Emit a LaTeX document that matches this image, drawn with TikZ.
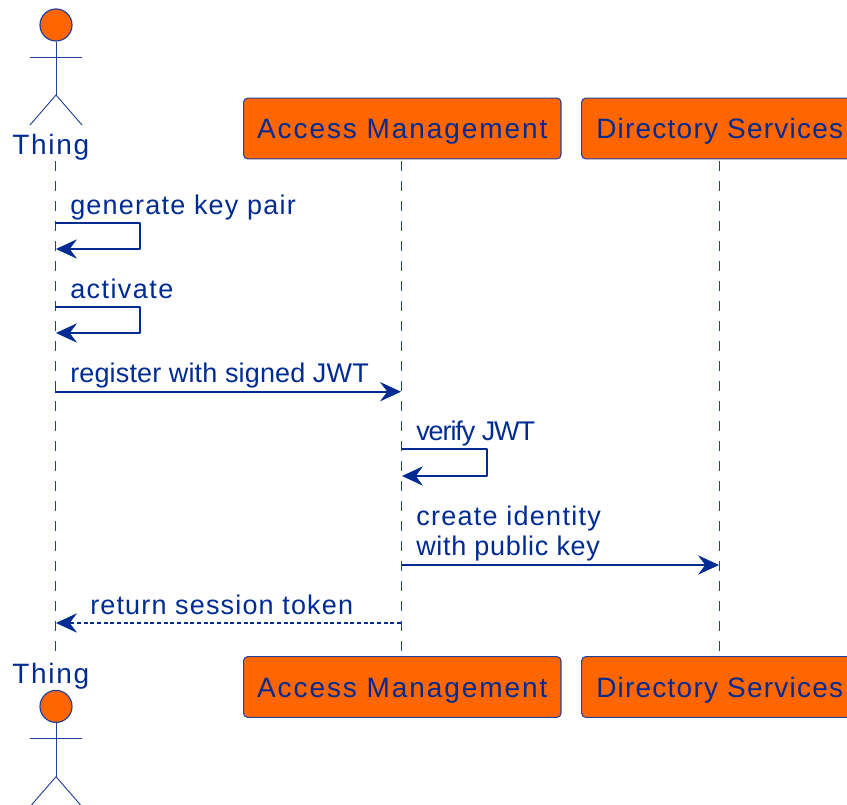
\documentclass[tikz,border=0pt]{standalone}
\usepackage{fontspec}
\setmainfont{Liberation Sans}
\usetikzlibrary{arrows.meta}
\definecolor{ink}{HTML}{002B92}
\definecolor{edge}{HTML}{24419A}
\definecolor{boxfill}{HTML}{FF6600}
\newcommand{\lsp}[1]{\addfontfeature{LetterSpace=#1}}
\tikzset{
  x=0.75pt,y=-0.75pt,
  part/.style={draw=edge,line width=0.8pt,fill=boxfill,rounded corners=3pt,minimum height=45.5pt,inner sep=0pt,text=ink,font=\fontsize{21pt}{24pt}\selectfont,text height=15.75pt,text depth=0pt},
  actlabel/.style={inner sep=0pt,anchor=base west,text=ink,font=\fontsize{21pt}{24pt}\selectfont},
  msglabel/.style={inner sep=0pt,anchor=base west,text=ink,font=\fontsize{20.25pt}{22pt}\selectfont},
  lifeline/.style={draw=edge,line width=0.75pt,dash pattern=on 7.2pt off 7.8pt},
  msg/.style={draw=ink,line width=1.5pt,line join=round,-{Stealth[length=15.75pt,width=14.5pt,inset=5.5pt,line width=0.6pt]}},
  reply/.style={msg,dash pattern=on 3pt off 2pt},
  limb/.style={draw=edge,line width=0.7pt},
  head/.style={circle,draw=edge,line width=0.9pt,fill=boxfill,minimum size=24pt,inner sep=0pt}
}
\begin{document}
\begin{tikzpicture}
\useasboundingbox (0,0) rectangle (847,805);
\clip (0,0) rectangle (847,805);
% participants
\node[part,minimum width=238pt] (amt) at (402.3,128.5) {\lsp{6.9}Access Management};
\node[part,minimum width=207pt] (dst) at (719.7,128.5) {\lsp{4.4}Directory Services};
\node[part,minimum width=238pt] (amb) at (402.3,687) {\lsp{6.9}Access Management};
\node[part,minimum width=207pt] (dsb) at (719.7,687) {\lsp{4.4}Directory Services};
% actors
\node[head] (ht) at (56,25) {};
\node[head] (hb) at (56,706.4) {};
\coordinate (tneck) at (56,95); \coordinate (tal) at (30,57); \coordinate (tar) at (82,57);
\coordinate (tll) at (30,125); \coordinate (tlr) at (82,125);
\draw[limb] (ht.south) -- (tneck);
\draw[limb] (tal) -- (tar);
\draw[limb] (tll) -- (tneck) -- (tlr);
\coordinate (bneck) at (56,776.7); \coordinate (bal) at (30,738.4); \coordinate (bar) at (82,738.4);
\coordinate (bll) at (30,806.7); \coordinate (blr) at (82,806.7);
\draw[limb] (hb.south) -- (bneck);
\draw[limb] (bal) -- (bar);
\draw[limb] (bll) -- (bneck) -- (blr);
\node[actlabel] (tt) at (12,155) {\lsp{6.2}Thing};
\node[actlabel] (tb) at (12,684) {\lsp{6.2}Thing};
% lifelines
\coordinate (lt1) at (55,161); \coordinate (lt2) at (55,651);
\coordinate (la1) at (401.7,161); \coordinate (la2) at (401.7,651);
\coordinate (ld1) at (719.7,161); \coordinate (ld2) at (719.7,651);
\draw[lifeline] (lt1) -- (lt2);
\draw[lifeline] (la1) -- (la2);
\draw[lifeline] (ld1) -- (ld2);
% messages
\coordinate (a1) at (55,223); \coordinate (a1r) at (140,223); \coordinate (a1s) at (140,249); \coordinate (a1e) at (56,249);
\draw[msg] (a1) -- (a1r) -- (a1s) -- (a1e);
\node[msglabel] (n1) at (70,214.5) {\lsp{4.5}generate key pair};
\coordinate (a2) at (55,307); \coordinate (a2r) at (140,307); \coordinate (a2s) at (140,333); \coordinate (a2e) at (56,333);
\draw[msg] (a2) -- (a2r) -- (a2s) -- (a2e);
\node[msglabel] (n2) at (70,298.5) {\lsp{5.3}activate};
\coordinate (a3) at (55,391.7); \coordinate (a3e) at (401,391.7);
\draw[msg] (a3) -- (a3e);
\node[msglabel] (n3) at (70,383) {\lsp{0.55}register with signed JWT};
\coordinate (a4) at (402,449.5); \coordinate (a4r) at (487,449.5); \coordinate (a4s) at (487,476); \coordinate (a4e) at (402,476);
\draw[msg] (a4) -- (a4r) -- (a4s) -- (a4e);
\node[msglabel] (n4) at (416,441) {\lsp{-4}verify JWT};
\coordinate (a5) at (402,565); \coordinate (a5e) at (719,565);
\draw[msg] (a5) -- (a5e);
\node[msglabel] (n5a) at (416,526) {\lsp{4.7}create identity};
\node[msglabel] (n5b) at (416,556) {\lsp{2.5}with public key};
\coordinate (a6) at (401,623); \coordinate (a6e) at (56,623);
\draw[reply] (a6) -- (a6e);
\node[msglabel] (n6) at (90,614.5) {\lsp{4.3}return session token};
\end{tikzpicture}
\end{document}
